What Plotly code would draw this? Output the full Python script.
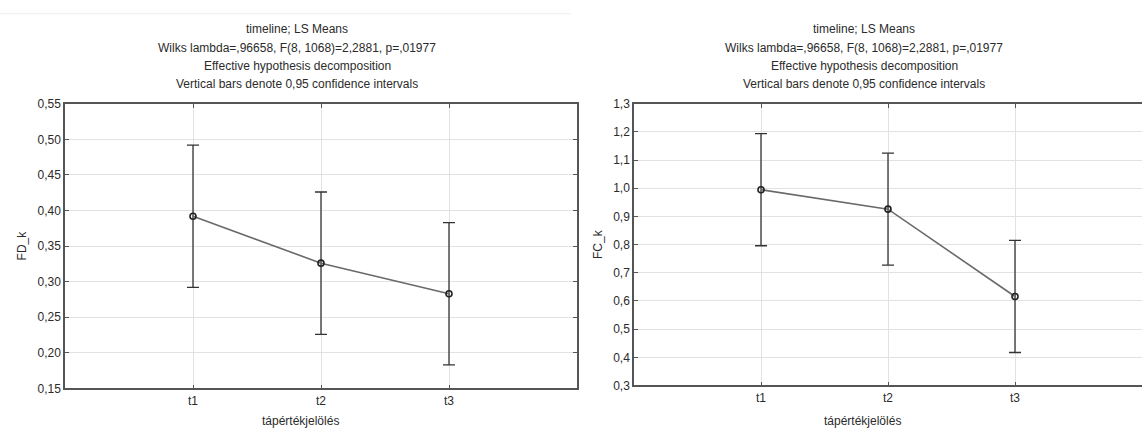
import plotly.graph_objects as go

# LS means with 0.95 confidence intervals for the three timeline levels
categories = ["t1", "t2", "t3"]
fd_means = [0.392, 0.326, 0.283]
fd_ci = [0.100, 0.100, 0.100]
fc_means = [0.995, 0.926, 0.616]
fc_ci = [0.199, 0.199, 0.199]

title_lines = [
    "timeline; LS Means",
    "Wilks lambda=,96658, F(8, 1068)=2,2881, p=,01977",
    "Effective hypothesis decomposition",
    "Vertical bars denote 0,95 confidence intervals",
]
x_title = "tápértékjelölés"
fd_ticks = [0.15, 0.20, 0.25, 0.30, 0.35, 0.40, 0.45, 0.50, 0.55]
fc_ticks = [0.3, 0.4, 0.5, 0.6, 0.7, 0.8, 0.9, 1.0, 1.1, 1.2, 1.3]

W, H = 1142, 437
FONT = "Liberation Sans, Arial, sans-serif"
TXT = "#2b2b2b"
xpos = list(range(1, len(categories) + 1))


def px(x):
    return x / W


def py(y):
    return 1 - y / H


fig = go.Figure()

for i, (means, ci) in enumerate([(fd_means, fd_ci), (fc_means, fc_ci)]):
    suffix = "" if i == 0 else "2"
    fig.add_trace(go.Scatter(
        x=xpos, y=means,
        xaxis="x" + suffix, yaxis="y" + suffix,
        mode="lines+markers",
        line=dict(color="#6a6a6a", width=1.6),
        marker=dict(symbol="circle-open", size=6, color="#222222",
                    line=dict(width=1.6, color="#222222")),
        error_y=dict(type="data", array=ci, visible=True,
                     color="#333333", thickness=1.3, width=6),
        showlegend=False,
        hoverinfo="skip",
    ))

axis_common = dict(
    showline=True, linecolor="#555555", linewidth=1.5,
    showgrid=True, gridcolor="#e2e2e2", gridwidth=1,
    ticks="inside", ticklen=4, tickcolor="#555555", tickwidth=1,
    zeroline=False,
    tickfont=dict(family=FONT, size=12, color=TXT),
)

fig.update_layout(
    width=W, height=H,
    margin=dict(l=0, r=0, t=0, b=0),
    paper_bgcolor="white", plot_bgcolor="white",
    separators=",.",
    font=dict(family=FONT, size=12, color=TXT),
    xaxis=dict(domain=[px(65), px(577)], range=[0, 4], tickvals=xpos,
               ticktext=categories, anchor="y", mirror="ticks", **axis_common),
    yaxis=dict(domain=[py(394), py(100)], range=[0.15, 0.55], tickvals=fd_ticks,
               tickformat=".2f", anchor="x", mirror="ticks",
               title=dict(text="FD_k", standoff=8,
                          font=dict(family=FONT, size=12, color=TXT)),
               **axis_common),
    # right panel runs off the page edge, so it has no right-hand frame line
    xaxis2=dict(domain=[px(634), 1.0], range=[0, 4], tickvals=xpos,
                ticktext=categories, anchor="y2", mirror="ticks", **axis_common),
    yaxis2=dict(domain=[py(391), py(100)], range=[0.3, 1.3], tickvals=fc_ticks,
                tickformat=".1f", anchor="x2", mirror=False,
                title=dict(text="FC_k", standoff=8,
                           font=dict(family=FONT, size=12, color=TXT)),
                **axis_common),
)

annotations = []
for cx in (297, 864):
    for k, line in enumerate(title_lines):
        annotations.append(dict(
            text=line, xref="paper", yref="paper",
            x=px(cx), y=py(23 + 19 * k), xanchor="center", yanchor="middle",
            showarrow=False, font=dict(family=FONT, size=12, color=TXT)))
for cx in (300, 862):
    annotations.append(dict(
        text=x_title, xref="paper", yref="paper",
        x=px(cx), y=py(428), xanchor="center", yanchor="middle",
        showarrow=False, font=dict(family=FONT, size=12, color=TXT)))
fig.update_layout(annotations=annotations)

# thin page rule along the top of the left panel
fig.add_shape(type="line", xref="paper", yref="paper",
              x0=0, x1=px(571), y0=py(7), y1=py(7),
              line=dict(color="#ececec", width=1))

fig.write_html("out.html")
